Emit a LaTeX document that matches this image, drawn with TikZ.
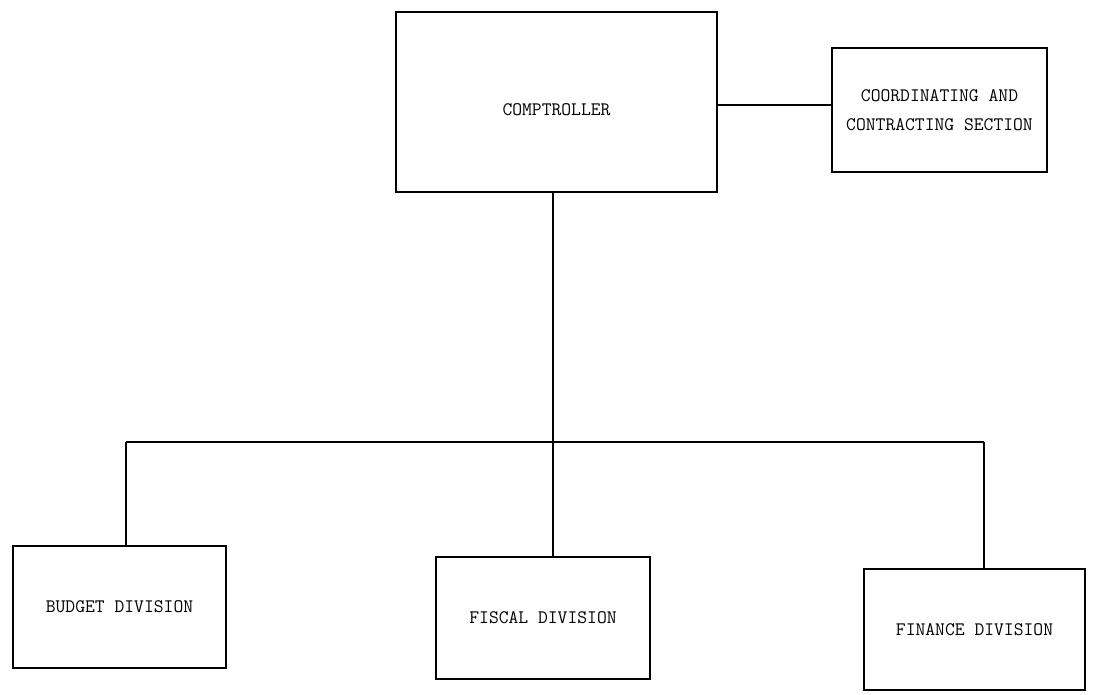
\documentclass[tikz,border=0pt]{standalone}
\usepackage{tikz}

\tikzset{every picture/.style={line width=0.75pt}}
\tikzset{
  orgbox/.style={draw, line width=1.4pt, inner sep=0.75pt, align=center,
    font=\ttfamily\fontsize{14.3}{21.75}\selectfont},
  orgline/.style={line width=1.9pt}
}

\begin{document}
\begin{tikzpicture}[x=0.75pt,y=0.75pt,yscale=-1,xscale=1]
%set diagram left start at 0, and has height of 694
\useasboundingbox (0,0) rectangle (1094,694);

%Shape: Rectangle [id:comp]
\node (comp) [orgbox, minimum width=240.75pt, minimum height=135pt] at (556.5,102) {\raisebox{-10.4pt}[0pt][0pt]{COMPTROLLER}};
%Shape: Rectangle [id:coord]
\node (coord) [orgbox, minimum width=161.25pt, minimum height=93pt] at (939.5,110) {COORDINATING AND\\CONTRACTING SECTION};
%Shape: Rectangle [id:budget]
\node (budget) [orgbox, minimum width=159.75pt, minimum height=91.5pt] at (119.5,607) {BUDGET DIVISION};
%Shape: Rectangle [id:fiscal]
\node (fiscal) [orgbox, minimum width=160.5pt, minimum height=91.5pt] at (543,618) {FISCAL DIVISION};
%Shape: Rectangle [id:finance]
\node (finance) [orgbox, minimum width=165.75pt, minimum height=90.75pt] at (974.5,629.5) {FINANCE DIVISION};

\coordinate (link) at (0,105);
\coordinate (bus) at (553,442);
\coordinate (busL) at (126,442);
\coordinate (busR) at (984,442);

%Straight Lines [id:staff]
\draw [orgline] (comp.east |- link) -- (coord.west |- link) ;
%Straight Lines [id:trunk]
\draw [orgline] (comp.south -| bus) -- (fiscal.north -| bus) ;
%Straight Lines [id:bus]
\draw [orgline] (busL) -- (busR) ;
%Straight Lines [id:left]
\draw [orgline] (busL) -- (busL |- budget.north) ;
%Straight Lines [id:right]
\draw [orgline] (busR) -- (busR |- finance.north) ;

\end{tikzpicture}
\end{document}
